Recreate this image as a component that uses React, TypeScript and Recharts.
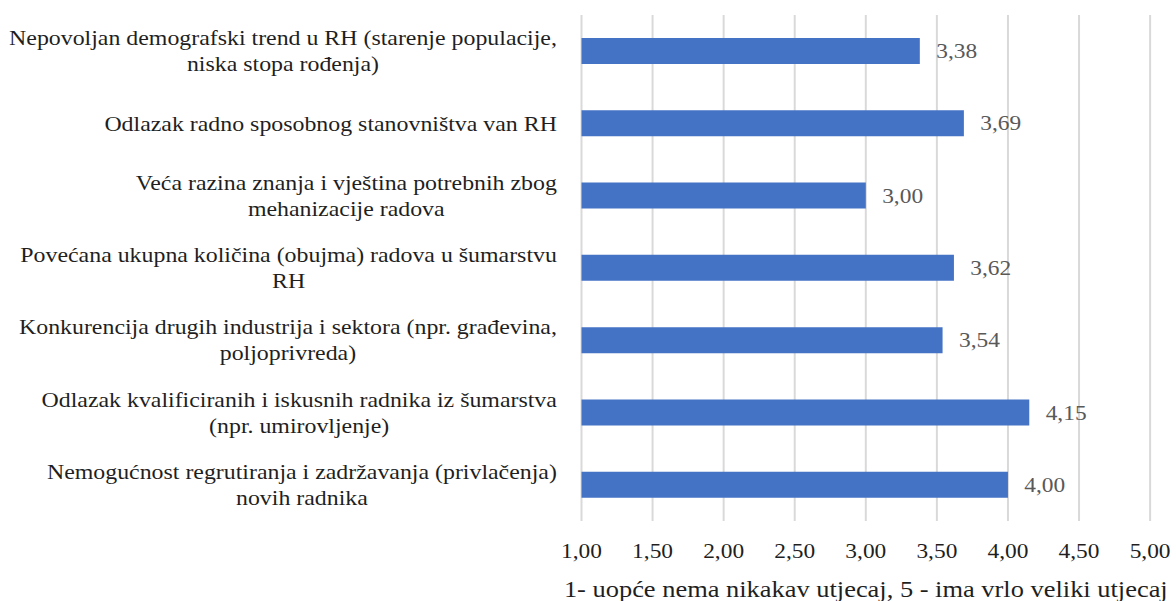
import { BarChart, Bar, XAxis, YAxis, CartesianGrid, LabelList, Label } from 'recharts';

// Survey answers: how strongly each factor affects the workforce (scale 1-5)
const categories = [
  ['Nepovoljan demografski trend u RH (starenje populacije,', 'niska stopa rođenja)'],
  ['Odlazak radno sposobnog stanovništva van RH'],
  ['Veća razina znanja i vještina potrebnih zbog', 'mehanizacije radova'],
  ['Povećana ukupna količina (obujma) radova u šumarstvu', 'RH'],
  ['Konkurencija drugih industrija i sektora (npr. građevina,', 'poljoprivreda)'],
  ['Odlazak kvalificiranih i iskusnih radnika iz šumarstva', '(npr. umirovljenje)'],
  ['Nemogućnost regrutiranja i zadržavanja (privlačenja)', 'novih radnika'],
];
const scores = [3.38, 3.69, 3.0, 3.62, 3.54, 4.15, 4.0];
const xTicks = [1, 1.5, 2, 2.5, 3, 3.5, 4, 4.5, 5];
const axisTitle = '1- uopće nema nikakav utjecaj, 5 - ima vrlo veliki utjecaj';

const data = categories.map((lines, i) => ({ name: lines.join(' '), score: scores[i] }));

// the source image is a bit wider than tall, so draw narrow and stretch
const STRETCH = 1.17;
const WIDTH = Math.round(1176 / STRETCH);
const HEIGHT = 601;
const FONT = "'Liberation Serif', 'Times New Roman', serif";
const LABEL_SIZE = 20.4;
const TICK_SIZE = 20;
const TITLE_SIZE = 22.6;
const TEXT = '#1f1f1f';

const fmt = (v: number) => v.toFixed(2).replace('.', ',');

let ctx: CanvasRenderingContext2D | null = null;
const measure = (s: string) => {
  if (!ctx) {
    ctx = document.createElement('canvas').getContext('2d');
    if (ctx) ctx.font = `${LABEL_SIZE}px ${FONT}`;
  }
  return ctx ? ctx.measureText(s).width : s.length * 9;
};

const CategoryTick = (props: any) => {
  const { x, y, index } = props;
  const lines = categories[index] || [String(props.payload.value)];
  const widest = Math.max(...lines.map(measure));
  const cx = x - 21 - widest / 2;
  return (
    <text textAnchor="middle" fontSize={LABEL_SIZE} fontFamily={FONT} fill={TEXT}>
      {lines.map((line, i) => (
        <tspan key={i} x={cx} y={y + (i - (lines.length - 1) / 2) * 26} dy="0.35em">
          {line}
        </tspan>
      ))}
    </text>
  );
};

const ValueTick = (props: any) => {
  const { x, y, payload } = props;
  return (
    <text x={x} y={y + 30} dy="0.35em" textAnchor="middle" fontSize={TICK_SIZE} fontFamily={FONT} fill={TEXT}>
      {fmt(payload.value)}
    </text>
  );
};

export default function App() {
  return (
    <div
      style={{
        position: 'absolute',
        left: 0,
        top: 0,
        width: WIDTH,
        height: HEIGHT,
        background: '#fff',
        fontFamily: FONT,
        transform: `scaleX(${STRETCH})`,
        transformOrigin: '0 0',
      }}
    >
      <BarChart
        width={WIDTH}
        height={HEIGHT}
        data={data}
        layout="vertical"
        margin={{ top: 15, right: 22, bottom: 0, left: 0 }}
      >
        <CartesianGrid horizontal={false} stroke="#d9d9d9" strokeWidth={1.7} />
        <XAxis
          type="number"
          domain={[1, 5]}
          ticks={xTicks}
          axisLine={false}
          tickLine={false}
          tickSize={0}
          tickMargin={0}
          height={80}
          tick={ValueTick}
        >
          <Label value={axisTitle} position="insideBottom" offset={4} fontSize={TITLE_SIZE} fontFamily={FONT} fill={TEXT} />
        </XAxis>
        <YAxis
          type="category"
          dataKey="name"
          width={497}
          axisLine={false}
          tickLine={false}
          tickSize={0}
          tickMargin={0}
          interval={0}
          tick={CategoryTick}
        />
        <Bar dataKey="score" fill="#4472C4" barSize={26} isAnimationActive={false}>
          <LabelList
            dataKey="score"
            position="right"
            offset={14}
            formatter={(v: any) => fmt(Number(v))}
            fill="#595959"
            fontSize={TICK_SIZE}
            fontFamily={FONT}
          />
        </Bar>
      </BarChart>
    </div>
  );
}
